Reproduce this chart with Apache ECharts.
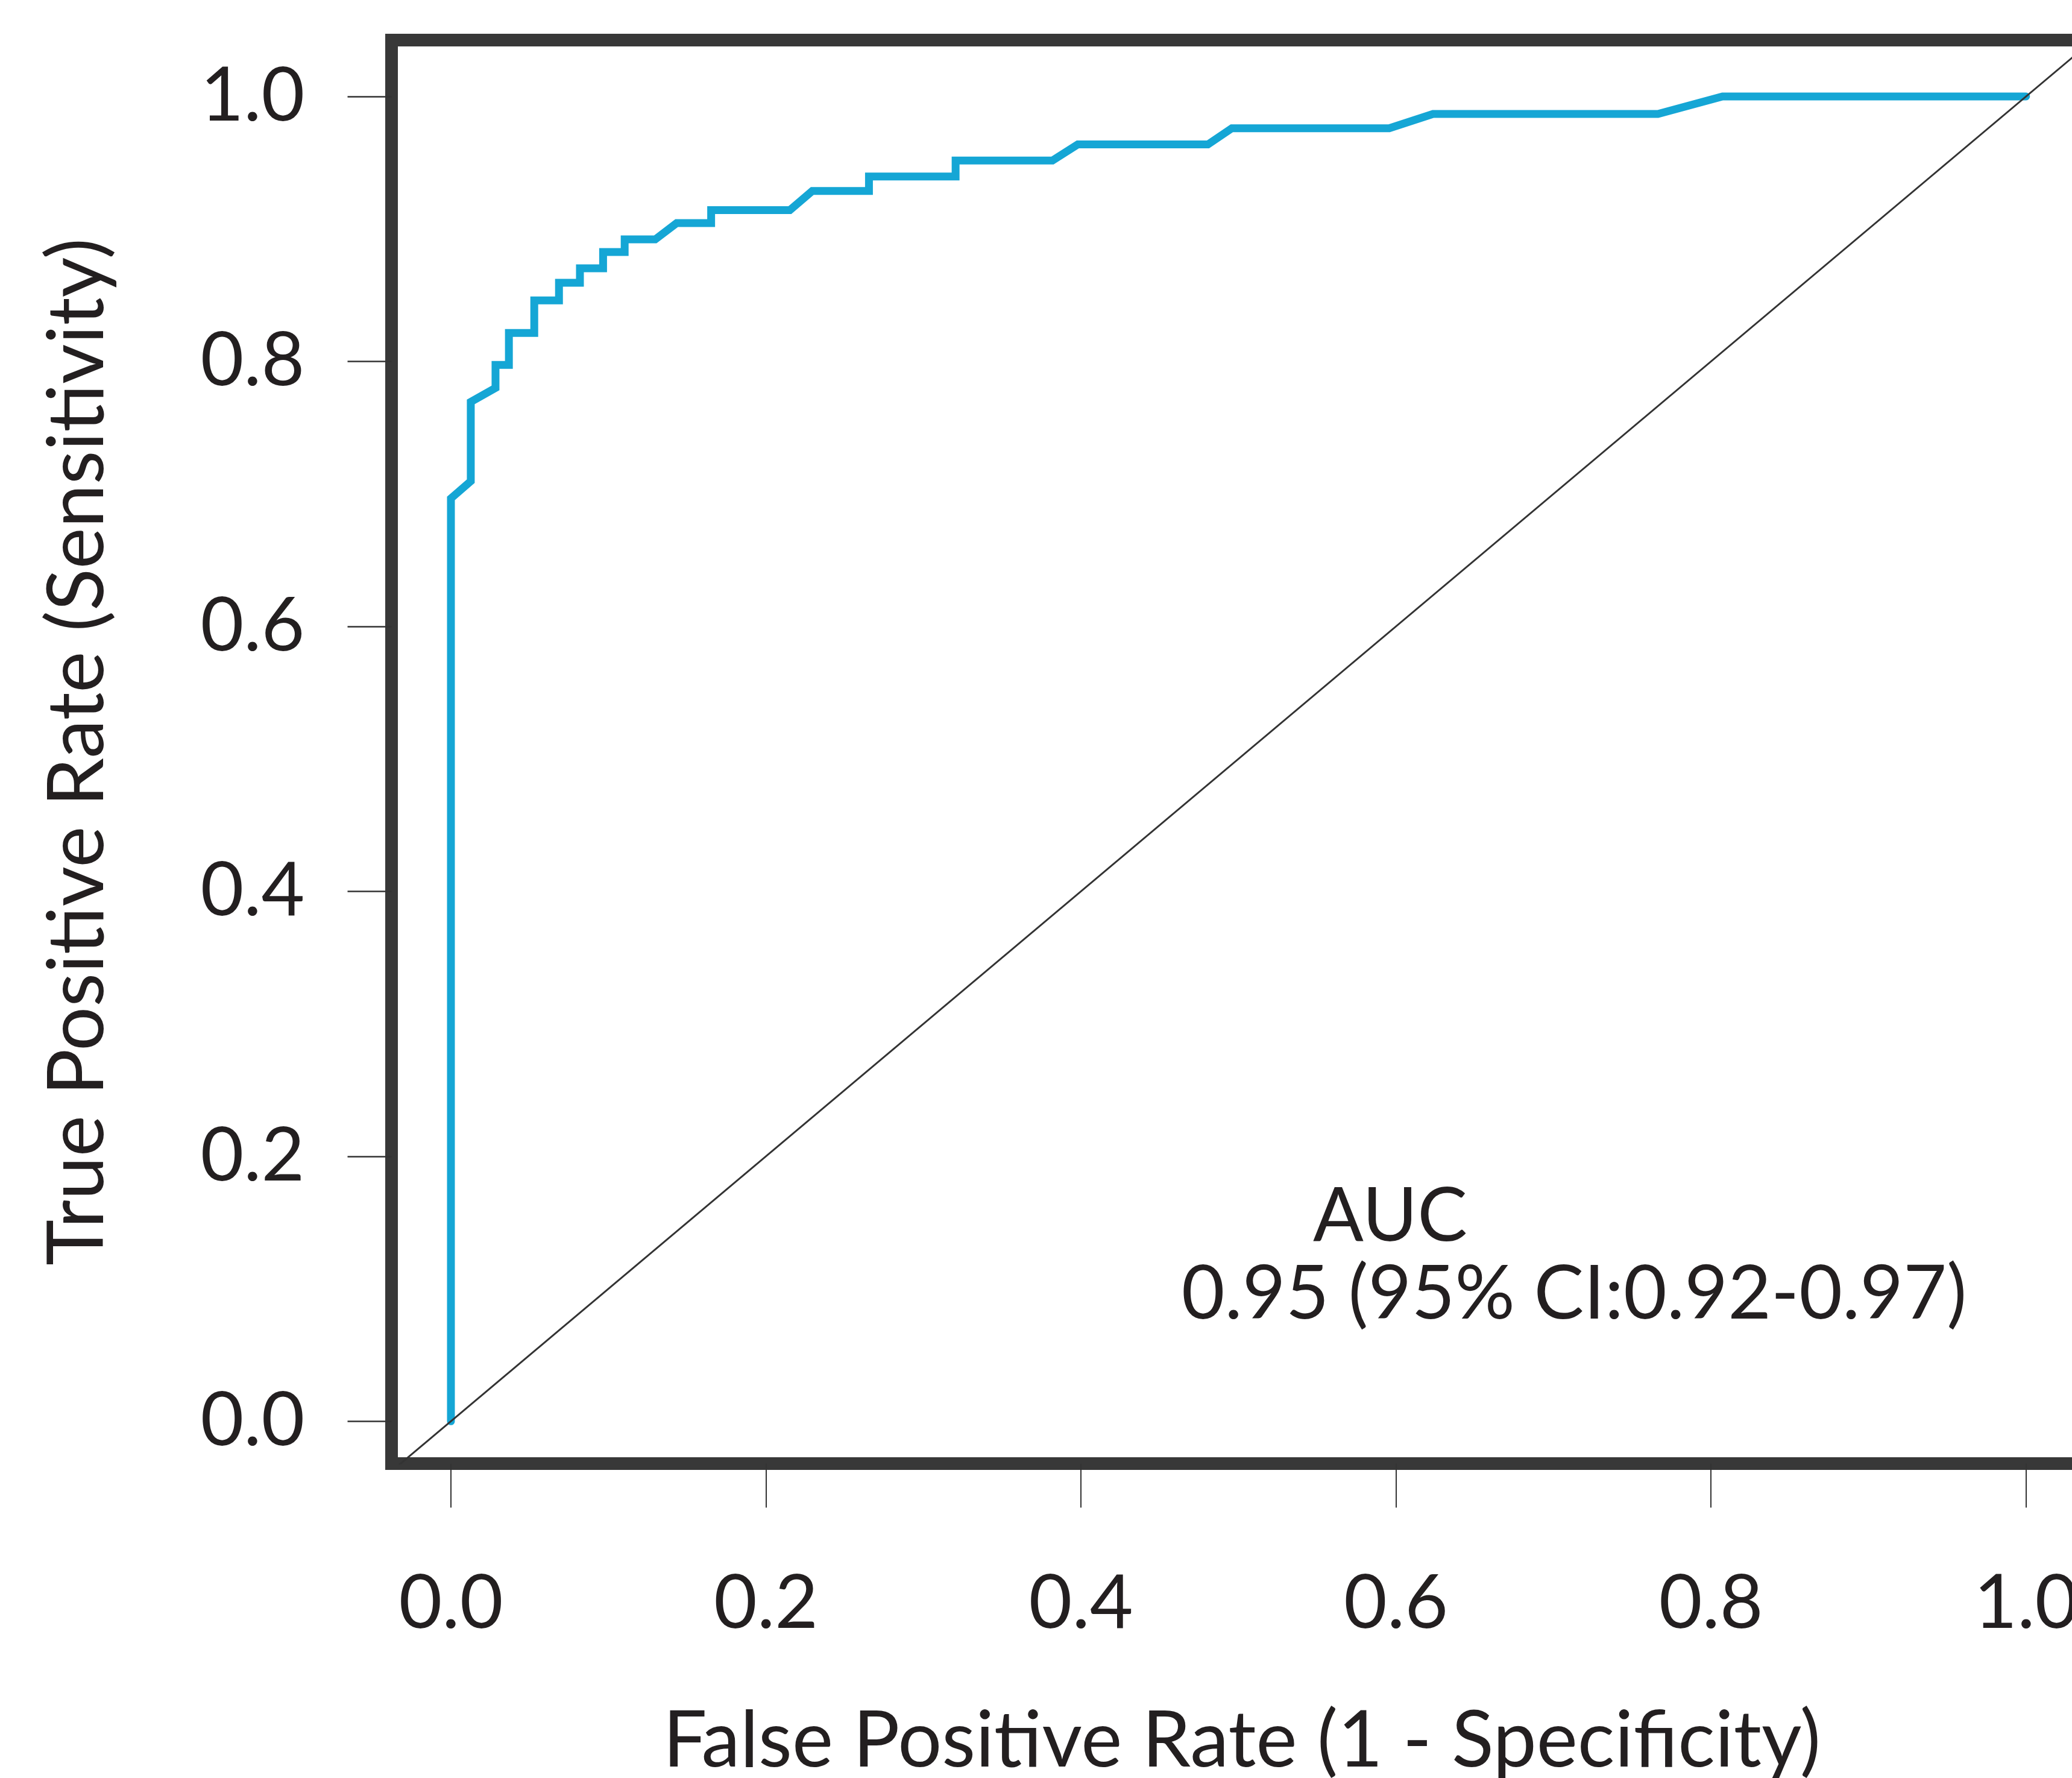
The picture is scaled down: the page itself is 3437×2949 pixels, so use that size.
<!DOCTYPE html>
<html>
<head>
<meta charset="utf-8">
<script src="https://cdn.jsdelivr.net/npm/echarts@6/dist/echarts.min.js"></script>
<style>
html,body{margin:0;padding:0;background:#fff;}
#c{width:3437px;height:2949px;}
</style>
</head>
<body>
<div id="c"></div>
<script>
const fpr = [0, 0, 0.0126, 0.0126, 0.0283, 0.0283, 0.0368, 0.0368, 0.0529, 0.0529, 0.0686, 0.0686, 0.0819, 0.0819, 0.0966, 0.0966, 0.1103, 0.1103, 0.1297, 0.1433, 0.1652, 0.1652, 0.2152, 0.2294, 0.2654, 0.2654, 0.3204, 0.3204, 0.3819, 0.398, 0.4806, 0.4958, 0.5957, 0.6235, 0.7663, 0.8073, 1.0];
const tpr = [0, 0.6966, 0.7096, 0.7695, 0.780, 0.7974, 0.7974, 0.8215, 0.8215, 0.8461, 0.8461, 0.8594, 0.8594, 0.8703, 0.8703, 0.8826, 0.8826, 0.8921, 0.8921, 0.9044, 0.9044, 0.9142, 0.9142, 0.9286, 0.9286, 0.9396, 0.9396, 0.9516, 0.9516, 0.9638, 0.9638, 0.976, 0.976, 0.9868, 0.9868, 1.0, 1.0];
const diagX = [-0.1, 1.1];
const diagY = [-0.1, 1.1];
const xTicks = [0, 0.2, 0.4, 0.6, 0.8, 1.0];
const yTicks = [0, 0.2, 0.4, 0.6, 0.8, 1.0];
const xName = 'False Positive Rate (1 - Specificity)';
const yName = 'True Positive Rate (Sensitivity)';
const aucTitle = 'AUC';
const aucText = '0.95 (95% CI:0.92-0.97)';

const FONT = 'Lato';
const TXT = '#231f20';
const xMin = -0.0377, xMax = 1.042;
const yMin = -0.032, yMax = 1.0425;

const chart = echarts.init(document.getElementById('c'), null, {renderer: 'canvas'});
const rocData = fpr.map((x, i) => [x, tpr[i]]);
const diagData = diagX.map((x, i) => [x, diagY[i]]);

chart.setOption({
  animation: false,
  backgroundColor: '#ffffff',
  grid: {
    left: 649.5, top: 66.6, width: 2821, height: 2361,
    outerBoundsMode: 'none', containLabel: false,
    show: true, borderColor: '#383838', borderWidth: 21, backgroundColor: 'transparent'
  },
  xAxis: {
    type: 'value', min: xMin, max: xMax,
    axisLine: {show: false, onZero: false},
    splitLine: {show: false},
    axisTick: {show: true, length: 73, customValues: xTicks, lineStyle: {color: '#333', width: 2}},
    axisLabel: {show: true, customValues: xTicks, margin: 170, fontFamily: FONT, fontSize: 124, color: TXT,
      formatter: v => v.toFixed(1)},
    name: xName, nameLocation: 'middle', nameGap: 396,
    nameTextStyle: {fontFamily: FONT, fontSize: 129, color: TXT}
  },
  yAxis: {
    type: 'value', min: yMin, max: yMax,
    axisLine: {show: false, onZero: false},
    splitLine: {show: false},
    axisTick: {show: true, length: 73, customValues: yTicks, lineStyle: {color: '#333', width: 2.5}},
    axisLabel: {show: true, customValues: yTicks, margin: 144, fontFamily: FONT, fontSize: 124, color: TXT,
      formatter: v => v.toFixed(1)},
    name: yName, nameLocation: 'middle', nameGap: 456, nameRotate: 90,
    nameTextStyle: {fontFamily: FONT, fontSize: 129, color: TXT}
  },
  series: [
    {
      type: 'line', data: rocData, symbol: 'none', clip: true, z: 2,
      lineStyle: {color: '#15a6d5', width: 13, cap: 'round', join: 'miter'}
    },
    {
      type: 'line', data: diagData, symbol: 'none', clip: true, z: 3,
      lineStyle: {color: '#333333', width: 3}
    }
  ],
  graphic: [
    {type: 'text', x: 2306, y: 2018, style: {text: aucTitle, fontFamily: FONT, fontSize: 124, fill: TXT, align: 'center', verticalAlign: 'middle'}},
    {type: 'text', x: 2611, y: 2147, style: {text: aucText, fontFamily: FONT, fontSize: 124, fill: TXT, align: 'center', verticalAlign: 'middle'}}
  ]
});
</script>
</body>
</html>
